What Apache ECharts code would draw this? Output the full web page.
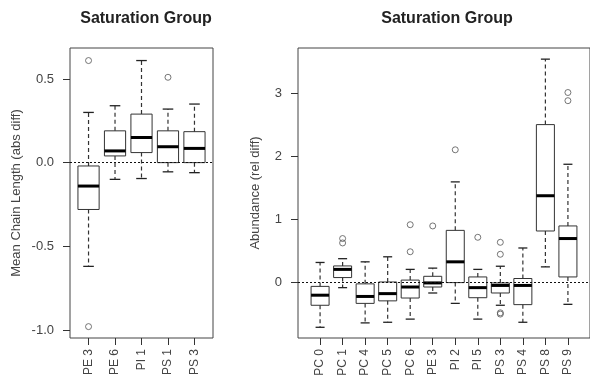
<!DOCTYPE html>
<html>
<head>
<meta charset="utf-8">
<script src="https://cdn.jsdelivr.net/npm/echarts@6/dist/echarts.min.js"></script>
<style>html,body{margin:0;padding:0;background:#fff}#c{width:590px;height:390px}</style>
</head>
<body>
<div id="c"></div>
<script>
// ---- Left panel data: Mean Chain Length (abs diff)
const leftCats = ['PE 3', 'PE 6', 'PI 1', 'PS 1', 'PS 3'];
const leftLow  = [-0.62, -0.10, -0.095, -0.055, -0.06];
const leftQ1   = [-0.28,  0.04,  0.06,   0.00,   0.00];
const leftMed  = [-0.14,  0.07,  0.15,   0.095,  0.085];
const leftQ3   = [-0.02,  0.19,  0.29,   0.19,   0.185];
const leftHigh = [ 0.30,  0.34,  0.61,   0.32,   0.35];
const leftOut  = [[0.61, -0.98], [], [], [0.51], []];
const leftTicks = [-1.0, -0.5, 0.0, 0.5];

// ---- Right panel data: Abundance (rel diff)
const rightCats = ['PC 0', 'PC 1', 'PC 4', 'PC 5', 'PC 6', 'PE 3', 'PI 2', 'PI 5', 'PS 3', 'PS 4', 'PS 8', 'PS 9'];
const rightLow  = [-0.72, -0.09, -0.65, -0.64, -0.59, -0.175, -0.34, -0.59, -0.37, -0.64, 0.24, -0.355];
const rightQ1   = [-0.37,  0.07, -0.34, -0.30, -0.255, -0.08, -0.01, -0.25, -0.175, -0.36, 0.81, 0.08];
const rightMed  = [-0.21,  0.20, -0.23, -0.185, -0.08, -0.015, 0.32, -0.09, -0.055, -0.055, 1.37, 0.69];
const rightQ3   = [-0.07,  0.255, -0.03, 0.00,  0.03,  0.09,  0.82,  0.08, -0.015, 0.055, 2.50, 0.89];
const rightHigh = [ 0.31,  0.37,  0.32,  0.40,  0.20,  0.22,  1.59,  0.20,  0.25,  0.54, 3.54, 1.87];
const rightOut  = [[], [0.69, 0.62], [], [], [0.91, 0.48], [0.89], [2.10], [0.71], [0.63, 0.44, -0.49, -0.51], [], [], [3.01, 2.88]];
const rightTicks = [0, 1, 2, 3];

const TXT = '#444';
const FONT = 'Liberation Sans, Arial, sans-serif';

function boxData(low, q1, med, q3, high) {
  return low.map((v, i) => [i + 1, v, q1[i], med[i], q3[i], high[i]]);
}
function outData(out) {
  const r = [];
  out.forEach((arr, i) => arr.forEach(v => r.push([i + 1, v])));
  return r;
}
function renderBox(params, api) {
  const x = api.value(0);
  const pLo = api.coord([x, api.value(1)]);
  const pQ1 = api.coord([x, api.value(2)]);
  const pMed = api.coord([x, api.value(3)]);
  const pQ3 = api.coord([x, api.value(4)]);
  const pHi = api.coord([x, api.value(5)]);
  const bw = api.size([0.8, 0])[0];
  const sw = bw / 2;
  const cx = pMed[0];
  const dash = { stroke: '#333', lineWidth: 1.2, lineDash: [4, 3], fill: null };
  const cap = { stroke: '#222', lineWidth: 1.3, fill: null };
  return {
    type: 'group',
    children: [
      { type: 'line', shape: { x1: cx, y1: pQ3[1], x2: cx, y2: pHi[1] }, style: dash },
      { type: 'line', shape: { x1: cx, y1: pQ1[1], x2: cx, y2: pLo[1] }, style: dash },
      { type: 'line', shape: { x1: cx - sw / 2, y1: pHi[1], x2: cx + sw / 2, y2: pHi[1] }, style: cap },
      { type: 'line', shape: { x1: cx - sw / 2, y1: pLo[1], x2: cx + sw / 2, y2: pLo[1] }, style: cap },
      { type: 'rect', shape: { x: cx - bw / 2, y: pQ3[1], width: bw, height: pQ1[1] - pQ3[1] },
        style: { fill: 'rgba(255,255,255,0)', stroke: '#333', lineWidth: 1 } },
      { type: 'line', shape: { x1: cx - bw / 2, y1: pMed[1], x2: cx + bw / 2, y2: pMed[1] },
        style: { stroke: '#000', lineWidth: 3 } }
    ]
  };
}

function xAxisDef(idx, cats) {
  return {
    type: 'value', gridIndex: idx, min: 0.3 - (idx ? 0.28 : 0), max: idx ? 12.98 : 5.7,
    axisLine: { show: false, onZero: false },
    splitLine: { show: false },
    axisTick: { show: true, length: 7, customValues: cats.map((c, i) => i + 1), lineStyle: { color: '#333' } },
    axisLabel: {
      show: true, rotate: 90, margin: 11, color: TXT, fontSize: 12, fontFamily: FONT,
      customValues: cats.map((c, i) => i + 1),
      formatter: v => cats[Math.round(v) - 1] || ''
    }
  };
}
function yAxisDef(idx, min, max, ticks, name, gap, fmt) {
  return {
    type: 'value', gridIndex: idx, min: min, max: max,
    name: name, nameLocation: 'middle', nameGap: gap, nameRotate: 90,
    nameTextStyle: { color: TXT, fontSize: 13, fontFamily: FONT },
    axisLine: { show: false, onZero: false },
    splitLine: { show: false },
    axisTick: { show: true, length: 7, customValues: ticks, lineStyle: { color: '#333' } },
    axisLabel: { show: true, margin: 16, color: TXT, fontSize: 13, fontFamily: FONT, customValues: ticks, formatter: fmt }
  };
}

const zeroLine = {
  silent: true, symbol: ['none', 'none'], label: { show: false },
  lineStyle: { type: [2, 2], color: '#111', width: 1 },
  data: [{ yAxis: 0 }]
};

const chart = echarts.init(document.getElementById('c'), null, { renderer: 'canvas' });
chart.setOption({
  animation: false,
  backgroundColor: '#fff',
  title: [
    { text: 'Saturation Group', left: 141, top: 6, textAlign: 'center',
      textStyle: { fontSize: 16, fontWeight: 'bold', color: '#222', fontFamily: FONT } },
    { text: 'Saturation Group', left: 442, top: 6, textAlign: 'center',
      textStyle: { fontSize: 16, fontWeight: 'bold', color: '#222', fontFamily: FONT } }
  ],
  grid: [
    { left: 70, top: 48, width: 143, height: 290, show: true, borderColor: '#444', borderWidth: 1, backgroundColor: 'transparent' },
    { left: 298, top: 48, width: 294, height: 290, show: true, borderColor: '#444', borderWidth: 1, backgroundColor: 'transparent' }
  ],
  xAxis: [xAxisDef(0, leftCats), xAxisDef(1, rightCats)],
  yAxis: [
    yAxisDef(0, -1.048, 0.685, leftTicks, 'Mean Chain Length (abs diff)', 47, v => v.toFixed(1)),
    yAxisDef(1, -0.89, 3.717, rightTicks, 'Abundance (rel diff)', 36, v => String(Math.round(v)))
  ],
  series: [
    { type: 'custom', xAxisIndex: 0, yAxisIndex: 0, renderItem: renderBox,
      encode: { x: 0, y: [1, 2, 3, 4, 5] },
      data: boxData(leftLow, leftQ1, leftMed, leftQ3, leftHigh), markLine: zeroLine, z: 2 },
    { type: 'scatter', xAxisIndex: 0, yAxisIndex: 0, symbol: 'circle', symbolSize: 6,
      itemStyle: { color: 'rgba(255,255,255,0)', borderColor: '#555', borderWidth: 1 },
      data: outData(leftOut) },
    { type: 'custom', xAxisIndex: 1, yAxisIndex: 1, renderItem: renderBox,
      encode: { x: 0, y: [1, 2, 3, 4, 5] },
      data: boxData(rightLow, rightQ1, rightMed, rightQ3, rightHigh), markLine: zeroLine, z: 2 },
    { type: 'scatter', xAxisIndex: 1, yAxisIndex: 1, symbol: 'circle', symbolSize: 6,
      itemStyle: { color: 'rgba(255,255,255,0)', borderColor: '#555', borderWidth: 1 },
      data: outData(rightOut) }
  ]
});
</script>
</body>
</html>
